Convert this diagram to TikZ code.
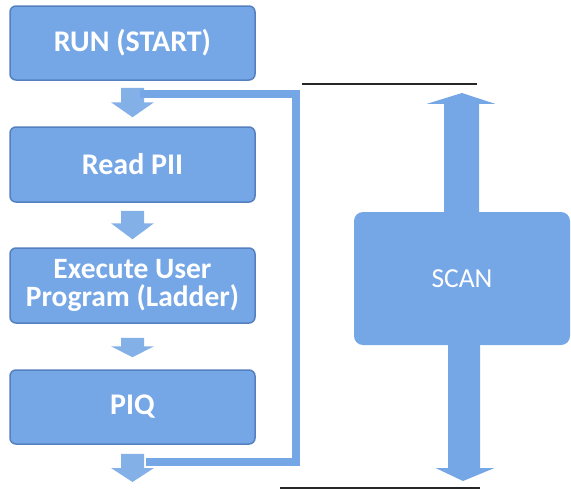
\documentclass[tikz,border=0pt]{standalone}
\usepackage{fontspec}
\setmainfont{Carlito}
\usetikzlibrary{calc}
\definecolor{boxblue}{RGB}{117,166,230}
\definecolor{boxedge}{RGB}{84,128,192}
\definecolor{arrblue}{RGB}{132,176,232}
\newcommand\flowarrow[3]{%
  \fill[arrblue] ($(#1)+(-11.5,0)$) -- ($(#1)+(11.5,0)$) -- ($(#2)+(11.5,-#3)$)
    -- ($(#2)+(21.5,-#3)$) -- (#2) -- ($(#2)+(-21.5,-#3)$) -- ($(#2)+(-11.5,-#3)$) -- cycle;}
\begin{document}
\begin{tikzpicture}[x=1pt,y=-1pt,
  stepbox/.style={draw=boxedge, line width=1.5pt, fill=boxblue, rounded corners=6pt,
    minimum width=245pt, text=white, font=\bfseries\fontsize{30}{30}\selectfont,
    align=center, inner sep=0pt},
  scanbox/.style={fill=boxblue, rounded corners=9pt, minimum width=216pt,
    minimum height=133pt, text=white, font=\fontsize{27.5}{27.5}\selectfont, inner sep=0pt},
  loopline/.style={draw=boxblue, line width=8pt, line join=miter},
  rule/.style={draw=black!85, line width=1.5pt}]
\useasboundingbox (0,0) rectangle (571,490);
% flow boxes
\node[stepbox, minimum height=74pt] (run) at (132.5,43) {RUN (START)};
\node[stepbox, minimum height=75pt] (read) at (132.5,164.5) {Read PII};
\node[stepbox, minimum height=75pt, font=\bfseries\fontsize{29.5}{27.5}\selectfont] (exec) at (132.5,285.5) {Execute User\\Program (Ladder)};
\node[stepbox, minimum height=74pt] (piq) at (132.5,407) {PIQ};
% small block arrows
\coordinate (a1s) at ($(run.south)+(0,7)$);
\coordinate (a1t) at ($(read.north)+(0,-9)$);
\coordinate (a2s) at ($(read.south)+(0,8)$);
\coordinate (a2t) at ($(exec.north)+(0,-8)$);
\coordinate (a3s) at ($(exec.south)+(0,14)$);
\coordinate (a3t) at ($(piq.north)+(0,-12)$);
\coordinate (a4s) at ($(piq.south)+(0,9)$);
\coordinate (a4t) at (132.5,482);
\flowarrow{a1s}{a1t}{15}
\flowarrow{a2s}{a2t}{16}
\flowarrow{a3s}{a3t}{11}
\flowarrow{a4s}{a4t}{14}
% loop back
\coordinate (l1) at (146,462);
\coordinate (l2) at (296,462);
\coordinate (l3) at (296,94);
\coordinate (l4) at (140,94);
\draw[loopline] (l1) -- (l2) -- (l3) -- (l4);
% scan
\node[scanbox] (scan) at (462,278.5) {SCAN};
\coordinate (uptip) at (462,93);
\coordinate (dntip) at (463,481);
\fill[boxblue] ($(scan.north)+(-18,1)$) -- ($(scan.north)+(-18,-108)$) -- ($(scan.north)+(-35,-108)$)
  -- (uptip) -- ($(scan.north)+(33,-108)$) -- ($(scan.north)+(17,-108)$) -- ($(scan.north)+(17,1)$) -- cycle;
\fill[boxblue] ($(scan.south)+(-14,-1)$) -- ($(scan.south)+(-14,123)$) -- ($(scan.south)+(-26,123)$)
  -- (dntip) -- ($(scan.south)+(32,123)$) -- ($(scan.south)+(18,123)$) -- ($(scan.south)+(18,-1)$) -- cycle;
% rules
\coordinate (r1a) at (302,84);
\coordinate (r1b) at (477,84);
\coordinate (r2a) at (280,488);
\coordinate (r2b) at (480,488);
\draw[rule] (r1a) -- (r1b);
\draw[rule] (r2a) -- (r2b);
\end{tikzpicture}
\end{document}
